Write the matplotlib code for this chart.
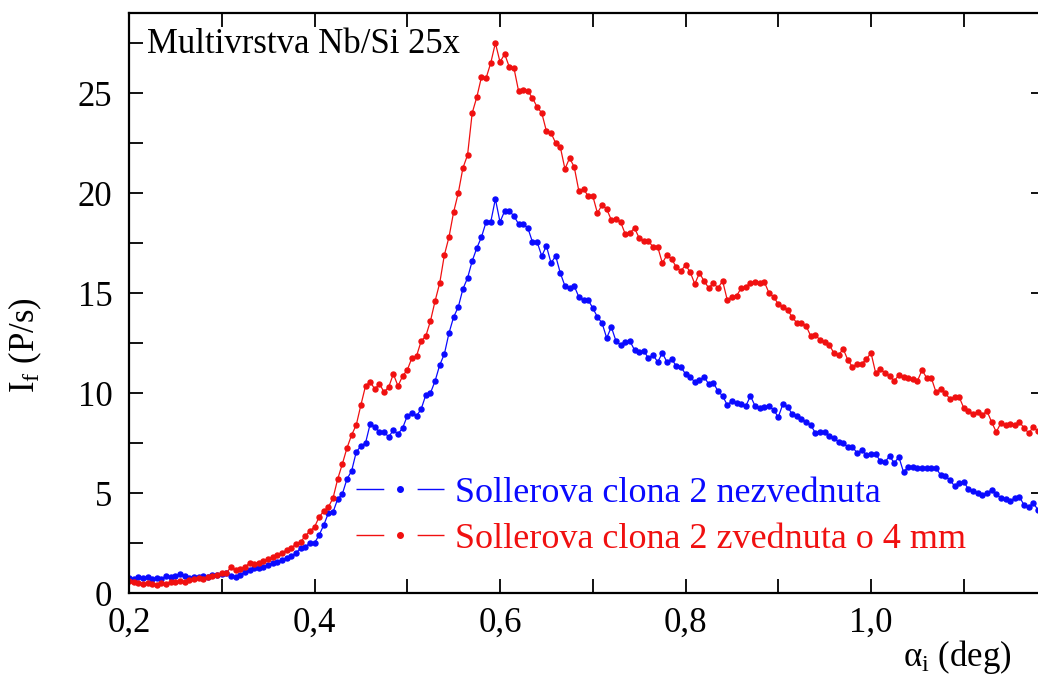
import numpy as np
import matplotlib
matplotlib.use("Agg")
import matplotlib.pyplot as plt
from matplotlib.lines import Line2D
from matplotlib.ticker import MultipleLocator

plt.rcParams['font.family'] = ['Liberation Serif', 'DejaVu Serif']
plt.rcParams['mathtext.fontset'] = 'custom'
plt.rcParams['mathtext.rm'] = 'Liberation Serif'
plt.rcParams['mathtext.it'] = 'Liberation Serif:italic'

# uhel dopadu, krok skenu 0.005 deg
alpha = np.round(np.arange(0.200, 1.1801, 0.005), 3)

# Sollerova clona 2 nezvednuta
i_blue = [
    0.75, 0.7, 0.8, 0.75, 0.8, 0.7, 0.75, 0.7, 0.85, 0.8,
    0.85, 0.95, 0.85, 0.75, 0.8, 0.8, 0.85, 0.8, 0.9, 0.9,
    0.95, 1.0, 0.85, 0.8, 0.9, 1.05, 1.15, 1.25, 1.25, 1.3,
    1.4, 1.5, 1.55, 1.65, 1.75, 1.85, 2.0, 2.25, 2.3, 2.5,
    2.5, 2.9, 3.4, 4.0, 4.05, 4.7, 4.95, 5.7, 6.1, 7.05,
    7.35, 7.5, 8.45, 8.3, 8.05, 8.05, 7.8, 8.15, 7.95, 8.25,
    8.85, 9.0, 8.85, 9.2, 9.9, 10.0, 10.6, 11.4, 11.95, 13.0,
    13.8, 14.3, 15.2, 15.75, 16.6, 17.25, 17.8, 18.55, 18.55, 19.7,
    18.55, 19.1, 19.1, 18.85, 18.45, 18.45, 18.25, 17.55, 17.55, 16.85,
    17.35, 16.5, 16.85, 16.0, 15.35, 15.25, 15.35, 14.8, 14.65, 14.65,
    14.25, 13.8, 13.5, 12.75, 13.3, 12.6, 12.4, 12.55, 12.6, 12.15,
    12.05, 12.1, 11.75, 11.9, 11.55, 12.0, 11.55, 11.7, 11.35, 11.3,
    10.95, 10.8, 10.55, 10.65, 10.8, 10.45, 10.5, 10.1, 9.85, 9.4,
    9.6, 9.5, 9.45, 9.35, 9.85, 9.35, 9.25, 9.3, 9.35, 9.15,
    8.8, 9.45, 9.3, 8.95, 8.85, 8.7, 8.55, 8.4, 8.0, 8.05,
    8.05, 7.85, 7.75, 7.55, 7.5, 7.3, 7.3, 7.0, 7.15, 6.9,
    6.95, 6.95, 6.6, 6.55, 6.85, 6.5, 6.8, 6.05, 6.3, 6.3,
    6.25, 6.25, 6.25, 6.25, 6.25, 5.9, 5.85, 5.65, 5.35, 5.5,
    5.55, 5.2, 5.1, 5.0, 4.9, 5.0, 5.15, 4.95, 4.75, 4.7,
    4.6, 4.75, 4.8, 4.4, 4.3, 4.5, 4.15,
]

# Sollerova clona 2 zvednuta o 4 mm
i_red = [
    0.6, 0.55, 0.5, 0.45, 0.5, 0.45, 0.4, 0.5, 0.45, 0.55,
    0.55, 0.6, 0.55, 0.65, 0.7, 0.75, 0.7, 0.8, 0.85, 0.9,
    1.0, 1.0, 1.3, 1.15, 1.2, 1.3, 1.5, 1.45, 1.5, 1.6,
    1.7, 1.8, 1.9, 2.0, 2.15, 2.25, 2.45, 2.55, 2.85, 3.1,
    3.3, 3.8, 4.1, 4.3, 4.75, 5.7, 6.45, 7.25, 7.9, 8.4,
    9.4, 10.35, 10.55, 10.2, 10.45, 10.05, 10.3, 10.95, 10.35, 10.85,
    11.15, 11.75, 11.85, 12.6, 12.85, 13.6, 14.6, 15.5, 16.9, 17.8,
    19.05, 20.0, 21.25, 21.9, 24.0, 24.8, 25.8, 25.75, 26.5, 27.5,
    26.55, 26.95, 26.3, 26.25, 25.1, 25.15, 25.1, 24.75, 24.3, 24.0,
    23.1, 23.0, 22.5, 22.3, 21.2, 21.75, 21.3, 20.1, 20.2, 19.85,
    19.85, 19.0, 19.4, 19.2, 18.65, 18.7, 18.55, 17.95, 18.0, 18.25,
    17.75, 17.6, 17.6, 17.3, 17.3, 16.5, 16.9, 16.7, 16.3, 16.1,
    16.4, 16.05, 15.45, 16.0, 15.6, 15.25, 15.5, 15.25, 15.6, 14.65,
    14.8, 14.85, 15.25, 15.3, 15.5, 15.55, 15.5, 15.55, 15.0, 14.8,
    14.45, 14.3, 14.15, 13.8, 13.5, 13.5, 13.35, 12.85, 12.9, 12.65,
    12.55, 12.4, 12.0, 11.9, 12.2, 11.65, 11.3, 11.45, 11.45, 11.7,
    12.0, 11.0, 11.2, 11.0, 10.85, 10.6, 10.9, 10.8, 10.75, 10.7,
    10.6, 11.15, 10.75, 10.75, 10.05, 10.2, 10.0, 9.7, 9.8, 9.8,
    9.25, 9.1, 8.95, 9.05, 8.9, 9.1, 8.55, 8.05, 8.5, 8.4,
    8.45, 8.4, 8.55, 8.25, 8.0, 8.3, 8.1,
]

labels = ["Sollerova clona 2 nezvednuta", "Sollerova clona 2 zvednuta o 4 mm"]
x_ticks = [0.2, 0.4, 0.6, 0.8, 1.0]
x_ticklabels = ["0,2", "0,4", "0,6", "0,8", "1,0"]
y_ticks = [0, 5, 10, 15, 20, 25]

c_blue = '#0a0aff'
c_red = '#f01010'

fig = plt.figure(figsize=(10.38, 6.78), dpi=100)
ax = fig.add_axes([129/1038, 85/678, 909/1038, 580/678])

ax.plot(alpha, i_blue, '-o', color=c_blue, lw=0.9, ms=3.6)
ax.plot(alpha, i_red, '-o', color=c_red, lw=0.9, ms=3.6)

ax.set_xlim(0.2, 1.18)
ax.set_ylim(0, 29)

# popisky jen u kazdeho druheho ticku na x, po 5 na y
ax.xaxis.set_major_locator(MultipleLocator(0.1))
ax.xaxis.set_major_formatter(plt.FuncFormatter(
    lambda v, p: x_ticklabels[x_ticks.index(round(v, 1))] if round(v, 1) in x_ticks else ""))
ax.yaxis.set_major_locator(MultipleLocator(2.5))
ax.yaxis.set_major_formatter(plt.FuncFormatter(
    lambda v, p: str(int(v)) if v in y_ticks else ""))

ax.tick_params(direction='in', length=10, width=1.3, labelsize=25,
               top=True, right=False, pad=10)
ax.tick_params(axis='y', pad=12)
for s in ['left', 'bottom', 'top']:
    ax.spines[s].set_linewidth(1.6)
ax.spines['right'].set_visible(False)

# kratke ticky na prave strane
sec = ax.secondary_yaxis('right')
sec.set_yticks(y_ticks)
sec.tick_params(direction='in', length=5, width=1.3, labelright=False)
sec.spines['right'].set_visible(False)

ax.text(0.02, 0.945, "Multivrstva Nb/Si 25x", transform=ax.transAxes,
        fontsize=25, va='center', ha='left')

handles = [Line2D([], [], color=c_blue, lw=1.0, ls=(0, (20, 24)), marker='o', ms=4),
           Line2D([], [], color=c_red, lw=1.0, ls=(0, (20, 24)), marker='o', ms=4)]
ax.legend(handles, labels, loc='center left', bbox_to_anchor=(0.2296, 0.132),
          frameon=False, fontsize=26, handlelength=2.45, handletextpad=0.3,
          labelspacing=0.35, borderpad=0, labelcolor='linecolor')

fig.text(25/1038, 1 - 345/678, "I$_{\\mathrm{f}}$ (P/s)", rotation=90,
         fontsize=25, ha='center', va='center')
fig.text(1012/1038, 1 - 657/678, "α$_{\\mathrm{i}}$ (deg)", fontsize=25,
         ha='right', va='center')

fig.savefig("out.png", dpi=100)
